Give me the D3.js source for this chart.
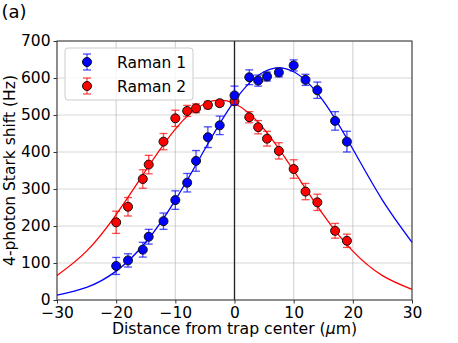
<!DOCTYPE html>
<html>
<head>
<meta charset="utf-8">
<script src="https://cdn.jsdelivr.net/npm/d3@7"></script>
<style>
  body { margin: 0; background: #fff; }
  text { font-family: "DejaVu Sans", sans-serif; }
</style>
</head>
<body>
<div id="chart"></div>
<script>
// measured points (distance in um, shift in Hz, error half-width)
const xs = [-20, -18, -15.5, -14.5, -12, -10, -8, -6.5, -4.5, -2.5, 0, 2.5, 4, 5.5, 7.5, 10, 12, 14, 17, 19];
const raman1 = [92, 107, 136, 171, 213, 270, 317, 376, 440, 472, 553, 602, 593, 604, 615, 634, 595, 567, 484, 428];
const raman1Err = [23, 18, 20, 20, 22, 25, 25, 28, 28, 25, 25, 20, 15, 12, 12, 15, 15, 22, 25, 28];
const raman2 = [210, 252, 327, 366, 428, 491, 511, 518, 527, 532, 537, 494, 467, 436, 403, 354, 293, 264, 187, 160];
const raman2Err = [30, 25, 25, 25, 22, 22, 15, 12, 10, 8, 10, 15, 18, 20, 22, 25, 22, 22, 20, 18];

// fit curves
const fitX = [-30, -25, -20, -15, -10, -5, 0, 5, 10, 15, 20, 25, 30];
const fit1 = [13, 34, 78, 156, 270, 408, 538, 617, 617, 538, 408, 270, 156];
const fit2 = [66, 132, 231, 350, 462, 531, 531, 462, 350, 231, 132, 66, 29];

const xTicks = [-30, -20, -10, 0, 10, 20, 30];
const yTicks = [0, 100, 200, 300, 400, 500, 600, 700];

const width = 458, height = 343;
const mLeft = 57, mRight = 412, mTop = 41, mBottom = 300;

const svg = d3.select("#chart").append("svg")
    .attr("width", width).attr("height", height);

const x = d3.scaleLinear().domain([-30, 30]).range([mLeft, mRight]);
const y = d3.scaleLinear().domain([0, 700]).range([mBottom, mTop]);

// grid
svg.append("g").selectAll("line").data(xTicks).enter().append("line")
    .attr("x1", d => x(d)).attr("x2", d => x(d))
    .attr("y1", mTop).attr("y2", mBottom)
    .attr("stroke", "#b0b0b0").attr("stroke-opacity", 0.5).attr("stroke-width", 1.2);
svg.append("g").selectAll("line").data(yTicks).enter().append("line")
    .attr("x1", mLeft).attr("x2", mRight)
    .attr("y1", d => y(d)).attr("y2", d => y(d))
    .attr("stroke", "#b0b0b0").attr("stroke-opacity", 0.5).attr("stroke-width", 1.2);

// trap center line
svg.append("line")
    .attr("x1", x(0)).attr("x2", x(0)).attr("y1", mTop).attr("y2", mBottom)
    .attr("stroke", "#222").attr("stroke-width", 1.3);

// fit curves
const line = d3.line().x(d => x(d[0])).y(d => y(d[1])).curve(d3.curveNatural);
svg.append("path").datum(d3.zip(fitX, fit1))
    .attr("d", line).attr("fill", "none").attr("stroke", "#0000ff").attr("stroke-width", 1.3);
svg.append("path").datum(d3.zip(fitX, fit2))
    .attr("d", line).attr("fill", "none").attr("stroke", "#ff0000").attr("stroke-width", 1.3);

function drawSeries(vals, errs, color) {
    const data = xs.map((d, i) => ({x: d, y: vals[i], e: errs[i]}));
    const g = svg.append("g");
    const eb = g.append("g").attr("stroke", color).attr("stroke-opacity", 0.7).attr("stroke-width", 1.3);
    data.forEach(d => {
        eb.append("line").attr("x1", x(d.x)).attr("x2", x(d.x))
            .attr("y1", y(d.y - d.e)).attr("y2", y(d.y + d.e));
        [d.y - d.e, d.y + d.e].forEach(v => {
            eb.append("line").attr("x1", x(d.x) - 4).attr("x2", x(d.x) + 4)
                .attr("y1", y(v)).attr("y2", y(v));
        });
    });
    g.selectAll("circle").data(data).enter().append("circle")
        .attr("cx", d => x(d.x)).attr("cy", d => y(d.y)).attr("r", 4.5)
        .attr("fill", color).attr("stroke", "#111").attr("stroke-width", 1);
}
drawSeries(raman2, raman2Err, "#ff0000");
drawSeries(raman1, raman1Err, "#0000ff");

// axes
const fmt = d => d < 0 ? "\u2212" + Math.abs(d) : String(d);
const xAxis = svg.append("g").attr("transform", `translate(0,${mBottom})`)
    .call(d3.axisBottom(x).tickValues(xTicks).tickFormat(fmt).tickSizeOuter(0).tickSize(3.5).tickPadding(3));
const yAxis = svg.append("g").attr("transform", `translate(${mLeft},0)`)
    .call(d3.axisLeft(y).tickValues(yTicks).tickSizeOuter(0).tickSize(3.5).tickPadding(3));
[xAxis, yAxis].forEach(a => {
    a.select(".domain").remove();
    a.selectAll("text").attr("font-size", 15.5).attr("fill", "#000").attr("font-family", "DejaVu Sans");
    a.selectAll("line").attr("stroke", "#333");
});

// frame
svg.append("rect").attr("x", mLeft).attr("y", mTop)
    .attr("width", mRight - mLeft).attr("height", mBottom - mTop)
    .attr("fill", "none").attr("stroke", "#333").attr("stroke-width", 1);

// labels
svg.append("text").attr("x", (mLeft + mRight) / 2).attr("y", 334)
    .attr("text-anchor", "middle").attr("font-size", 15.7)
    .html("Distance from trap center (<tspan font-style='italic'>μ</tspan>m)");
svg.append("text").attr("transform", `translate(15,${(mTop + mBottom) / 2}) rotate(-90)`)
    .attr("text-anchor", "middle").attr("font-size", 15.5)
    .text("4-photon Stark shift (Hz)");
svg.append("text").attr("x", 1.5).attr("y", 18).attr("font-size", 18).text("(a)");

// legend
const lg = svg.append("g");
lg.append("rect").attr("x", 65).attr("y", 48).attr("width", 128).attr("height", 52)
    .attr("rx", 3).attr("fill", "#fff").attr("fill-opacity", 0.8)
    .attr("stroke", "#ccc").attr("stroke-width", 1);
[["Raman 1", "#0000ff", 62], ["Raman 2", "#ff0000", 86]].forEach(([name, c, ly]) => {
    const lx = 87;
    lg.append("line").attr("x1", lx).attr("x2", lx).attr("y1", ly - 8).attr("y2", ly + 8)
        .attr("stroke", c).attr("stroke-opacity", 0.7).attr("stroke-width", 1.3);
    [ly - 8, ly + 8].forEach(v => lg.append("line").attr("x1", lx - 4).attr("x2", lx + 4)
        .attr("y1", v).attr("y2", v).attr("stroke", c).attr("stroke-opacity", 0.7).attr("stroke-width", 1.3));
    lg.append("circle").attr("cx", lx).attr("cy", ly).attr("r", 4.5)
        .attr("fill", c).attr("stroke", "#111").attr("stroke-width", 1);
    lg.append("text").attr("x", 117).attr("y", ly + 5.5).attr("font-size", 15.5).text(name);
});
</script>
</body>
</html>
